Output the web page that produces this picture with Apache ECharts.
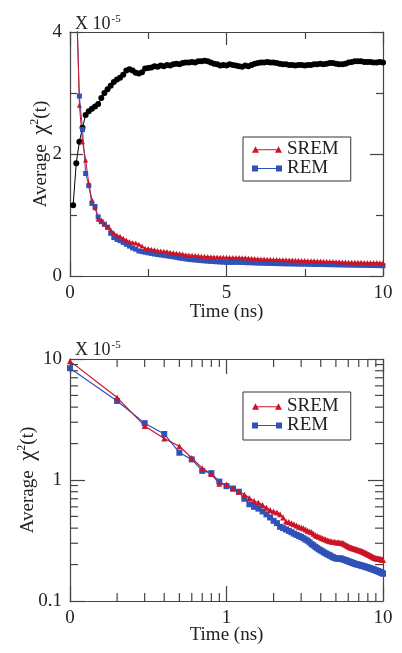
<!DOCTYPE html>
<html><head><meta charset="utf-8">
<script src="https://cdn.jsdelivr.net/npm/echarts@6/dist/echarts.min.js"></script>
<style>html,body{margin:0;padding:0;background:#fff}#c{width:402px;height:653px}</style>
</head><body><div id="c"></div>
<script>
// Time in ns
const times = [0.1,0.2,0.3,0.4,0.5,0.6,0.7,0.8,0.9,1.0,
1.1,1.2,1.3,1.4,1.5,1.6,1.7,1.8,1.9,2.0,
2.1,2.2,2.3,2.4,2.5,2.6,2.7,2.8,2.9,3.0,
3.1,3.2,3.3,3.4,3.5,3.6,3.7,3.8,3.9,4.0,
4.1,4.2,4.3,4.4,4.5,4.6,4.7,4.8,4.9,5.0,
5.1,5.2,5.3,5.4,5.5,5.6,5.7,5.8,5.9,6.0,
6.1,6.2,6.3,6.4,6.5,6.6,6.7,6.8,6.9,7.0,
7.1,7.2,7.3,7.4,7.5,7.6,7.7,7.8,7.9,8.0,
8.1,8.2,8.3,8.4,8.5,8.6,8.7,8.8,8.9,9.0,
9.1,9.2,9.3,9.4,9.5,9.6,9.7,9.8,9.9,10.0];

// Average chi^2(t), units of 1e-5
const sremValues = [9.6,4.8,2.8,2.2,1.9,1.52,1.25,1.12,0.93,0.92,
0.85,0.8,0.76,0.71,0.67,0.65,0.62,0.59,0.565,0.55,
0.54,0.52,0.49,0.455,0.45,0.44,0.43,0.42,0.41,0.405,
0.4,0.39,0.38,0.375,0.37,0.36,0.35,0.345,0.34,0.335,
0.33,0.325,0.322,0.318,0.315,0.312,0.31,0.308,0.307,0.306,
0.305,0.304,0.303,0.302,0.3,0.298,0.294,0.29,0.286,0.283,
0.28,0.277,0.275,0.273,0.271,0.27,0.268,0.266,0.265,0.263,
0.262,0.26,0.258,0.256,0.254,0.252,0.25,0.248,0.246,0.244,
0.242,0.24,0.238,0.236,0.234,0.232,0.23,0.228,0.227,0.226,
0.225,0.225,0.224,0.223,0.222,0.222,0.221,0.22,0.219,0.218];

const remValues = [8.4,4.5,2.95,2.4,1.68,1.48,1.19,1.14,0.97,0.89,
0.85,0.8,0.7,0.63,0.6,0.58,0.55,0.52,0.49,0.46,
0.44,0.41,0.4,0.39,0.38,0.37,0.36,0.352,0.345,0.338,
0.33,0.322,0.315,0.305,0.295,0.288,0.28,0.273,0.267,0.262,
0.257,0.252,0.248,0.244,0.24,0.237,0.233,0.23,0.227,0.225,
0.224,0.224,0.225,0.224,0.222,0.22,0.218,0.217,0.215,0.213,
0.211,0.21,0.208,0.206,0.205,0.203,0.202,0.201,0.2,0.199,
0.198,0.197,0.196,0.195,0.194,0.193,0.192,0.191,0.19,0.189,
0.188,0.187,0.186,0.185,0.184,0.183,0.182,0.181,0.18,0.179,
0.178,0.177,0.176,0.175,0.174,0.173,0.172,0.171,0.17,0.168];

// Unlabelled black series (top panel only)
const blackValues = [1.16,1.85,2.2,2.43,2.64,2.7,2.74,2.78,2.82,2.92,
3.0,3.06,3.12,3.18,3.22,3.25,3.3,3.37,3.39,3.37,
3.33,3.32,3.34,3.4,3.41,3.42,3.44,3.43,3.45,3.44,
3.46,3.45,3.47,3.48,3.47,3.49,3.5,3.5,3.51,3.5,
3.52,3.52,3.53,3.52,3.5,3.48,3.47,3.45,3.46,3.45,
3.47,3.46,3.45,3.44,3.43,3.45,3.44,3.46,3.48,3.49,
3.5,3.5,3.51,3.5,3.5,3.49,3.48,3.47,3.47,3.46,
3.46,3.45,3.46,3.46,3.45,3.46,3.46,3.47,3.47,3.48,
3.47,3.48,3.49,3.49,3.48,3.47,3.47,3.48,3.5,3.51,
3.52,3.52,3.52,3.51,3.51,3.51,3.5,3.5,3.51,3.5];

const logMinorTicks = [0.2,0.3,0.4,0.5,0.6,0.7,0.8,0.9,2,3,4,5,6,7,8,9];

const RED = '#cc1426', BLUE = '#2f52b8', AX = '#444';
const FONT = 'Liberation Serif';

const pairs = v => times.map((t, i) => [t, v[i]]);

const axisBase = {
  axisLine: { show: true, onZero: false, lineStyle: { color: AX, width: 1.2 } },
  splitLine: { show: false },
  nameMoveOverlap: false,
  axisLabel: { fontFamily: FONT, fontSize: 19, fontWeight: 'normal', color: '#222', margin: 8 },
  nameTextStyle: { fontFamily: FONT, fontSize: 19, fontWeight: 'normal', color: '#222' }
};
function ax(extra) { return Object.assign({}, JSON.parse(JSON.stringify(axisBase)), extra); }

const yNameRich = {
  t: { fontFamily: FONT, fontSize: 19, fontWeight: 'normal', color: '#222' },
  c: { fontFamily: FONT, fontSize: 23, fontWeight: 'normal', color: '#222' },
  s: { fontFamily: FONT, fontSize: 12, fontWeight: 'normal', color: '#222', verticalAlign: 'top', padding: [0, 0, 12, 0] }
};
const yName = '{t|Average  }{c|χ}{s|2}{t|(t)}';
const scaleRich = {
  a: { fontFamily: FONT, fontSize: 18, fontWeight: 'normal', color: '#222' },
  b: { fontFamily: FONT, fontSize: 11, fontWeight: 'normal', color: '#222', verticalAlign: 'top', padding: [0, 0, 10, 1] }
};

const SREM_ICON = 'path://M0,7 L3.5,0.5 L7,7 Z M23,7 L26.5,0.5 L30,7 Z M3,3.6 L27,3.6 L27,4.6 L3,4.6 Z';
const REM_ICON = 'path://M0,0.5 L6,0.5 L6,6.5 L0,6.5 Z M24,0.5 L30,0.5 L30,6.5 L24,6.5 Z M3,3 L27,3 L27,4 L3,4 Z';

const chart = echarts.init(document.getElementById('c'), null, { renderer: 'canvas' });

function tickSeries(kind) {
  // minor ticks of log axes, positioned through the axis scales
  return {
    type: 'custom', xAxisIndex: 2, yAxisIndex: 2, silent: true, clip: false, z: 5,
    data: logMinorTicks.map(v => kind === 'x' ? [v, 1] : [1, v]),
    renderItem: function (params, api) {
      const L = 8, s = { stroke: AX, lineWidth: 1.2 };
      if (kind === 'x') {
        const v = api.value(0);
        const a = api.coord([v, 0.1]), b = api.coord([v, 10]);
        return { type: 'group', children: [
          { type: 'line', shape: { x1: a[0], y1: a[1], x2: a[0], y2: a[1] - L }, style: s },
          { type: 'line', shape: { x1: b[0], y1: b[1], x2: b[0], y2: b[1] + L }, style: s }
        ]};
      } else {
        const v = api.value(1);
        const a = api.coord([0.1, v]), b = api.coord([10, v]);
        return { type: 'group', children: [
          { type: 'line', shape: { x1: a[0], y1: a[1], x2: a[0] + L, y2: a[1] }, style: s },
          { type: 'line', shape: { x1: b[0], y1: b[1], x2: b[0] - L, y2: b[1] }, style: s }
        ]};
      }
    }
  };
}

const legendData = [{ name: 'SREM', icon: SREM_ICON }, { name: 'REM', icon: REM_ICON }];

const option = {
  backgroundColor: '#fff',
  animation: false,
  title: [
    { text: '{a|X 10}{b|-5}', left: 70, top: 9, textStyle: { fontWeight: 'normal', rich: scaleRich } },
    { text: '{a|X 10}{b|-5}', left: 70, top: 335, textStyle: { fontWeight: 'normal', rich: scaleRich } }
  ],
  legend: [
    { left: 243, top: 137, orient: 'vertical', data: legendData, borderColor: '#333', borderWidth: 1,
      padding: [3, 12, 3, 9], itemGap: 0, itemWidth: 30, itemHeight: 7,
      textStyle: { fontFamily: FONT, fontSize: 19, fontWeight: 'normal', color: '#222' } },
    { left: 243, top: 392, orient: 'vertical', data: legendData, borderColor: '#333', borderWidth: 1,
      padding: [5, 12, 5, 9], itemGap: 0, itemWidth: 30, itemHeight: 7,
      textStyle: { fontFamily: FONT, fontSize: 19, fontWeight: 'normal', color: '#222' } }
  ],
  grid: [
    { left: 70, top: 32, width: 313, height: 244 },
    { left: 70, top: 359, width: 313, height: 242 }
  ],
  xAxis: [
    ax({ gridIndex: 0, type: 'value', min: 0, max: 10, interval: 5, position: 'bottom',
      name: 'Time (ns)', nameLocation: 'middle', nameGap: 27,
      axisTick: { inside: true, length: 13, lineStyle: { color: AX, width: 1.2 } },
      minorTick: { show: true, splitNumber: 2, length: 7, lineStyle: { color: AX, width: 1.2 } } }),
    ax({ gridIndex: 0, type: 'value', min: 0, max: 10, interval: 5, position: 'top',
      axisLabel: { show: false },
      axisTick: { inside: true, length: 13, lineStyle: { color: AX, width: 1.2 } },
      minorTick: { show: true, splitNumber: 2, length: 7, lineStyle: { color: AX, width: 1.2 } } }),
    ax({ gridIndex: 1, type: 'log', logBase: 10, min: 0.1, max: 10, position: 'bottom',
      name: 'Time (ns)', nameLocation: 'middle', nameGap: 25,
      axisLabel: { fontFamily: FONT, fontSize: 19, fontWeight: 'normal', color: '#222', margin: 8,
        formatter: v => (v < 0.5 ? '0' : String(Math.round(v))) },
      axisTick: { inside: true, length: 15, lineStyle: { color: AX, width: 1.2 } } }),
    ax({ gridIndex: 1, type: 'log', logBase: 10, min: 0.1, max: 10, position: 'top',
      axisLabel: { show: false },
      axisTick: { inside: true, length: 15, lineStyle: { color: AX, width: 1.2 } } })
  ],
  yAxis: [
    ax({ gridIndex: 0, type: 'value', min: 0, max: 4, interval: 2, position: 'left',
      name: yName, nameLocation: 'middle', nameGap: 17, nameRotate: 90,
      nameTextStyle: { fontWeight: 'normal', rich: yNameRich },
      axisTick: { inside: true, length: 13, lineStyle: { color: AX, width: 1.2 } },
      minorTick: { show: true, splitNumber: 2, length: 7, lineStyle: { color: AX, width: 1.2 } } }),
    ax({ gridIndex: 0, type: 'value', min: 0, max: 4, interval: 2, position: 'right',
      axisLabel: { show: false },
      axisTick: { inside: true, length: 13, lineStyle: { color: AX, width: 1.2 } },
      minorTick: { show: true, splitNumber: 2, length: 7, lineStyle: { color: AX, width: 1.2 } } }),
    ax({ gridIndex: 1, type: 'log', logBase: 10, min: 0.1, max: 10, position: 'left',
      name: yName, nameLocation: 'middle', nameGap: 30, nameRotate: 90,
      nameTextStyle: { fontWeight: 'normal', rich: yNameRich },
      axisTick: { inside: true, length: 15, lineStyle: { color: AX, width: 1.2 } } }),
    ax({ gridIndex: 1, type: 'log', logBase: 10, min: 0.1, max: 10, position: 'right',
      axisLabel: { show: false },
      axisTick: { inside: true, length: 15, lineStyle: { color: AX, width: 1.2 } } })
  ],
  series: [
    { name: 'black', type: 'line', xAxisIndex: 0, yAxisIndex: 0, data: pairs(blackValues),
      symbol: 'circle', symbolSize: 6, itemStyle: { color: '#000' }, lineStyle: { color: '#000', width: 1 } },
    { name: 'REM', type: 'line', xAxisIndex: 0, yAxisIndex: 0, data: pairs(remValues),
      symbol: 'rect', symbolSize: 5, itemStyle: { color: BLUE }, lineStyle: { color: BLUE, width: 1 } },
    { name: 'SREM', type: 'line', xAxisIndex: 0, yAxisIndex: 0, data: pairs(sremValues),
      symbol: 'triangle', symbolSize: 5, itemStyle: { color: RED }, lineStyle: { color: RED, width: 1 } },
    { name: 'REM', type: 'line', xAxisIndex: 2, yAxisIndex: 2, data: pairs(remValues),
      symbol: 'rect', symbolSize: 6, itemStyle: { color: BLUE }, lineStyle: { color: BLUE, width: 1.2 } },
    { name: 'SREM', type: 'line', xAxisIndex: 2, yAxisIndex: 2, data: pairs(sremValues),
      symbol: 'triangle', symbolSize: 6, itemStyle: { color: RED }, lineStyle: { color: RED, width: 1.2 } },
    tickSeries('x'),
    tickSeries('y')
  ]
};
chart.setOption(option);
</script></body></html>
